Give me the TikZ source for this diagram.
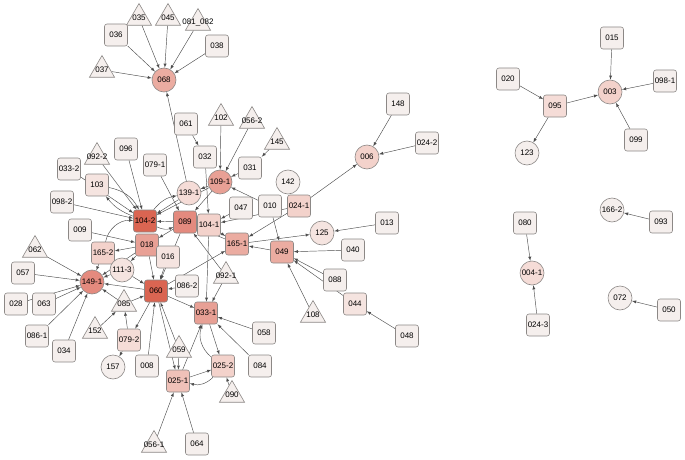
\documentclass[tikz,border=0pt]{standalone}
\usepackage{fontspec}
\setmainfont{Liberation Sans}
\usepackage{tikz}
\usetikzlibrary{shapes.geometric,backgrounds}

\definecolor{heat0}{HTML}{F5EFED}
\definecolor{heat1}{HTML}{F5E4E0}
\definecolor{heat2}{HTML}{F5DCD7}
\definecolor{heat3}{HTML}{F3D2CB}
\definecolor{heat4}{HTML}{F0C1B8}
\definecolor{heat5}{HTML}{EBACA1}
\definecolor{heat6}{HTML}{E8A095}
\definecolor{heat7}{HTML}{E48A7E}
\definecolor{heat8}{HTML}{DA6552}
\definecolor{rim}{HTML}{8C8886}
\definecolor{wirecol}{HTML}{4D4D4D}

% triangle labels may stick out of the shape
\newcommand{\tlab}[1]{\makebox[0pt]{#1}}

\tikzset{
  vertex/.style={draw=rim, fill=heat0, line width=0.6pt, inner sep=0pt, font=\fontsize{8}{9}\selectfont},
  box/.style={vertex, rounded corners=2.5pt, minimum width=23pt, minimum height=22pt},
  disc/.style={vertex, circle, minimum size=24pt},
  tri/.style={vertex, regular polygon, regular polygon sides=3, minimum size=29pt},
  wire/.style={->, draw=wirecol, line width=0.45pt},
}

\begin{document}
\begin{tikzpicture}[x=1pt,y=-1pt,>=latex]
\useasboundingbox (0,0) rectangle (685,460);
% top cluster
\node[disc, fill=heat5] (n068) at (164,80) {068};
\node[tri] (n035) at (139,18) {\tlab{035}};
\node[tri] (n045) at (168,18) {\tlab{045}};
\node[tri] (n081) at (198,23) {\tlab{081\_082}};
\node[box] (n036) at (116,35) {036};
\node[box] (n038) at (217,46) {038};
\node[tri] (n037) at (102,70) {\tlab{037}};
% main cluster
\node[box, fill=heat8] (n104-2) at (145,221) {104-2};
\node[box, fill=heat6] (n018) at (147,245) {018};
\node[box, fill=heat7] (n089) at (185,222) {089};
\node[box, fill=heat3] (n104-1) at (209,225) {104-1};
\node[disc, fill=heat6] (n109-1) at (220,182) {109-1};
\node[disc, fill=heat2] (n139-1) at (189,193) {139-1};
\node[box, fill=heat5] (n165-1) at (237,244) {165-1};
\node[box, fill=heat5] (n049) at (282,252) {049};
\node[box, fill=heat8] (n060) at (156,291) {060};
\node[disc, fill=heat7] (n149-1) at (92,282) {149-1};
\node[box, fill=heat6] (n033-1) at (206,313) {033-1};
\node[box, fill=heat4] (n025-1) at (178,381) {025-1};
\node[box, fill=heat3] (n025-2) at (223,366) {025-2};
\node[box, fill=heat1] (n016) at (168,257) {016};
\node[box, fill=heat3] (n165-2) at (103,253) {165-2};
\node[disc, fill=heat1] (n111-3) at (122,270) {111-3};
\node[tri] (n085) at (124,304) {\tlab{085}};
\node[tri] (n152) at (95,331) {\tlab{152}};
\node[box, fill=heat2] (n079-2) at (129,340) {079-2};
\node[disc] (n157) at (113,367) {157};
\node[box] (n008) at (147,366) {008};
\node[tri] (n059) at (179,350) {\tlab{059}};
\node[tri] (n090) at (232,395) {\tlab{090}};
\node[box] (n084) at (260,366) {084};
\node[box] (n058) at (264,333) {058};
\node[box] (n064) at (197,444) {064};
\node[tri] (n056-1) at (154,445) {\tlab{056-1}};
\node[box] (n086-2) at (187,286) {086-2};
\node[tri] (n092-1) at (226,276) {\tlab{092-1}};
\node[tri] (n108) at (313,315) {\tlab{108}};
\node[box] (n088) at (335,280) {088};
\node[box, fill=heat1] (n044) at (355,304) {044};
\node[box] (n048) at (407,336) {048};
\node[box] (n040) at (353,250) {040};
\node[disc, fill=heat1] (n125) at (322,233) {125};
\node[box] (n013) at (387,223) {013};
\node[box, fill=heat3] (n024-1) at (299,206) {024-1};
\node[box] (n010) at (270,206) {010};
\node[box] (n047) at (241,208) {047};
\node[disc] (n142) at (288,182) {142};
\node[box] (n031) at (250,168) {031};
\node[tri] (n145) at (277,142) {\tlab{145}};
\node[tri] (n056-2) at (252,121) {\tlab{056-2}};
\node[tri] (n102) at (221,118) {\tlab{102}};
\node[box] (n061) at (186,124) {061};
\node[box] (n032) at (205,157) {032};
\node[box] (n079-1) at (155,165) {079-1};
\node[box] (n096) at (126,149) {096};
\node[tri] (n092-2) at (97,157) {\tlab{092-2}};
\node[box] (n033-2) at (69,169) {033-2};
\node[box, fill=heat1] (n103) at (97,185) {103};
\node[box] (n098-2) at (62,202) {098-2};
\node[box] (n009) at (80,230) {009};
\node[tri] (n062) at (35,250) {\tlab{062}};
\node[box] (n057) at (23,273) {057};
\node[box] (n028) at (16,304) {028};
\node[box] (n063) at (44,304) {063};
\node[box] (n086-1) at (37,336) {086-1};
\node[box] (n034) at (64,351) {034};
\node[disc, fill=heat3] (n006) at (367,157) {006};
\node[box] (n148) at (398,104) {148};
\node[box] (n024-2) at (427,143) {024-2};
% right clusters
\node[disc, fill=heat3] (n003) at (610,92) {003};
\node[box] (n015) at (612,38) {015};
\node[box] (n098-1) at (665,81) {098-1};
\node[box] (n099) at (636,140) {099};
\node[box, fill=heat2] (n095) at (555,106) {095};
\node[box] (n020) at (508,79) {020};
\node[disc] (n123) at (527,153) {123};
\node[disc] (n166-2) at (612,210) {166-2};
\node[box] (n093) at (661,222) {093};
\node[box] (n080) at (525,223) {080};
\node[disc, fill=heat2] (n004-1) at (532,273) {004-1};
\node[box] (n024-3) at (538,325) {024-3};
\node[disc] (n072) at (620,298) {072};
\node[box] (n050) at (669,310) {050};

\begin{pgfonlayer}{background}
% into 068
\draw[wire] (n035) -- (n068);
\draw[wire] (n045) -- (n068);
\draw[wire] (n081) -- (n068);
\draw[wire] (n036) -- (n068);
\draw[wire] (n038) -- (n068);
\draw[wire] (n037) -- (n068);
\draw[wire] (n139-1) -- (n068);
% round 104-2
\draw[wire] (n092-2) -- (n104-2);
\draw[wire] (n096) -- (n104-2);
\draw[wire] (n033-2) -- (n104-2);
\draw[wire] (n098-2) -- (n104-2);
\draw[wire] (n103) to[bend left=25] (n104-2);
\draw[wire] (n104-2) to[bend left=15] (n103);
\draw[wire] (n165-2) to[bend left=40] (n104-2);
\draw[wire] (n139-1) -- (n104-2);
\draw[wire] (n104-2) to[bend left=20] (n139-1);
\draw[wire] (n109-1) -- (n104-2);
\draw[wire] (n089) -- (n104-2);
\draw[wire] (n104-2) to[bend right=25] (n089);
\draw[wire] (n009) -- (n018);
\draw[wire] (n079-1) -- (n089);
\draw[wire] (n104-1) -- (n089);
\draw[wire] (n089) -- (n018);
\draw[wire] (n165-1) -- (n089);
\draw[wire] (n092-1) -- (n089);
\draw[wire] (n109-1) -- (n139-1);
\draw[wire] (n109-1) -- (n089);
% round 109-1 and 104-1
\draw[wire] (n061) -- (n032);
\draw[wire] (n032) -- (n104-1);
\draw[wire] (n102) -- (n109-1);
\draw[wire] (n056-2) -- (n109-1);
\draw[wire] (n145) -- (n031);
\draw[wire] (n031) -- (n109-1);
\draw[wire] (n010) -- (n109-1);
\draw[wire] (n047) -- (n104-1);
\draw[wire] (n024-1) -- (n104-1);
% round 165-1, 049, 006
\draw[wire] (n024-1) -- (n165-1);
\draw[wire] (n024-1) -- (n006);
\draw[wire] (n148) -- (n006);
\draw[wire] (n024-2) -- (n006);
\draw[wire] (n165-1) -- (n125);
\draw[wire] (n013) -- (n125);
\draw[wire] (n049) -- (n165-1);
\draw[wire] (n010) -- (n049);
\draw[wire] (n040) -- (n049);
\draw[wire] (n088) -- (n049);
\draw[wire] (n044) -- (n049);
\draw[wire] (n108) -- (n049);
\draw[wire] (n048) -- (n044);
\draw[wire] (n104-1) -- (n165-1);
\draw[wire] (n060) -- (n165-1);
% round 033-1 and 025
\draw[wire] (n104-1) -- (n033-1);
\draw[wire] (n092-1) -- (n033-1);
\draw[wire] (n060) -- (n033-1);
\draw[wire] (n058) -- (n033-1);
\draw[wire] (n084) -- (n033-1);
\draw[wire] (n033-1) -- (n025-2);
\draw[wire] (n025-2) to[bend left=35] (n033-1);
\draw[wire] (n025-1) -- (n033-1);
\draw[wire] (n025-1) -- (n025-2);
\draw[wire] (n025-2) to[bend left=30] (n025-1);
\draw[wire] (n090) -- (n025-2);
\draw[wire] (n064) -- (n025-1);
\draw[wire] (n056-1) -- (n025-1);
\draw[wire] (n059) -- (n025-1);
\draw[wire] (n059) -- (n060);
\draw[wire] (n060) -- (n025-1);
% round 060 and 149-1
\draw[wire] (n008) -- (n060);
\draw[wire] (n060) -- (n079-2);
\draw[wire] (n079-2) -- (n157);
\draw[wire] (n079-2) -- (n085);
\draw[wire] (n152) -- (n085);
\draw[wire] (n085) -- (n060);
\draw[wire] (n085) -- (n149-1);
\draw[wire] (n060) -- (n149-1);
\draw[wire] (n111-3) -- (n149-1);
\draw[wire] (n165-2) -- (n149-1);
\draw[wire] (n018) -- (n149-1);
\draw[wire] (n062) -- (n149-1);
\draw[wire] (n057) -- (n149-1);
\draw[wire] (n063) -- (n149-1);
\draw[wire] (n028) -- (n149-1);
\draw[wire] (n086-1) -- (n149-1);
\draw[wire] (n034) -- (n149-1);
\draw[wire] (n018) -- (n060);
\draw[wire] (n016) -- (n060);
\draw[wire] (n111-3) -- (n060);
\draw[wire] (n089) -- (n060);
\draw[wire] (n018) -- (n165-2);
\draw[wire] (n018) -- (n111-3);
\draw[wire] (n086-2) -- (n060);
% right clusters
\draw[wire] (n015) -- (n003);
\draw[wire] (n098-1) -- (n003);
\draw[wire] (n099) -- (n003);
\draw[wire] (n095) -- (n003);
\draw[wire] (n020) -- (n095);
\draw[wire] (n095) -- (n123);
\draw[wire] (n093) -- (n166-2);
\draw[wire] (n080) -- (n004-1);
\draw[wire] (n024-3) -- (n004-1);
\draw[wire] (n050) -- (n072);
\end{pgfonlayer}
\end{tikzpicture}
\end{document}
